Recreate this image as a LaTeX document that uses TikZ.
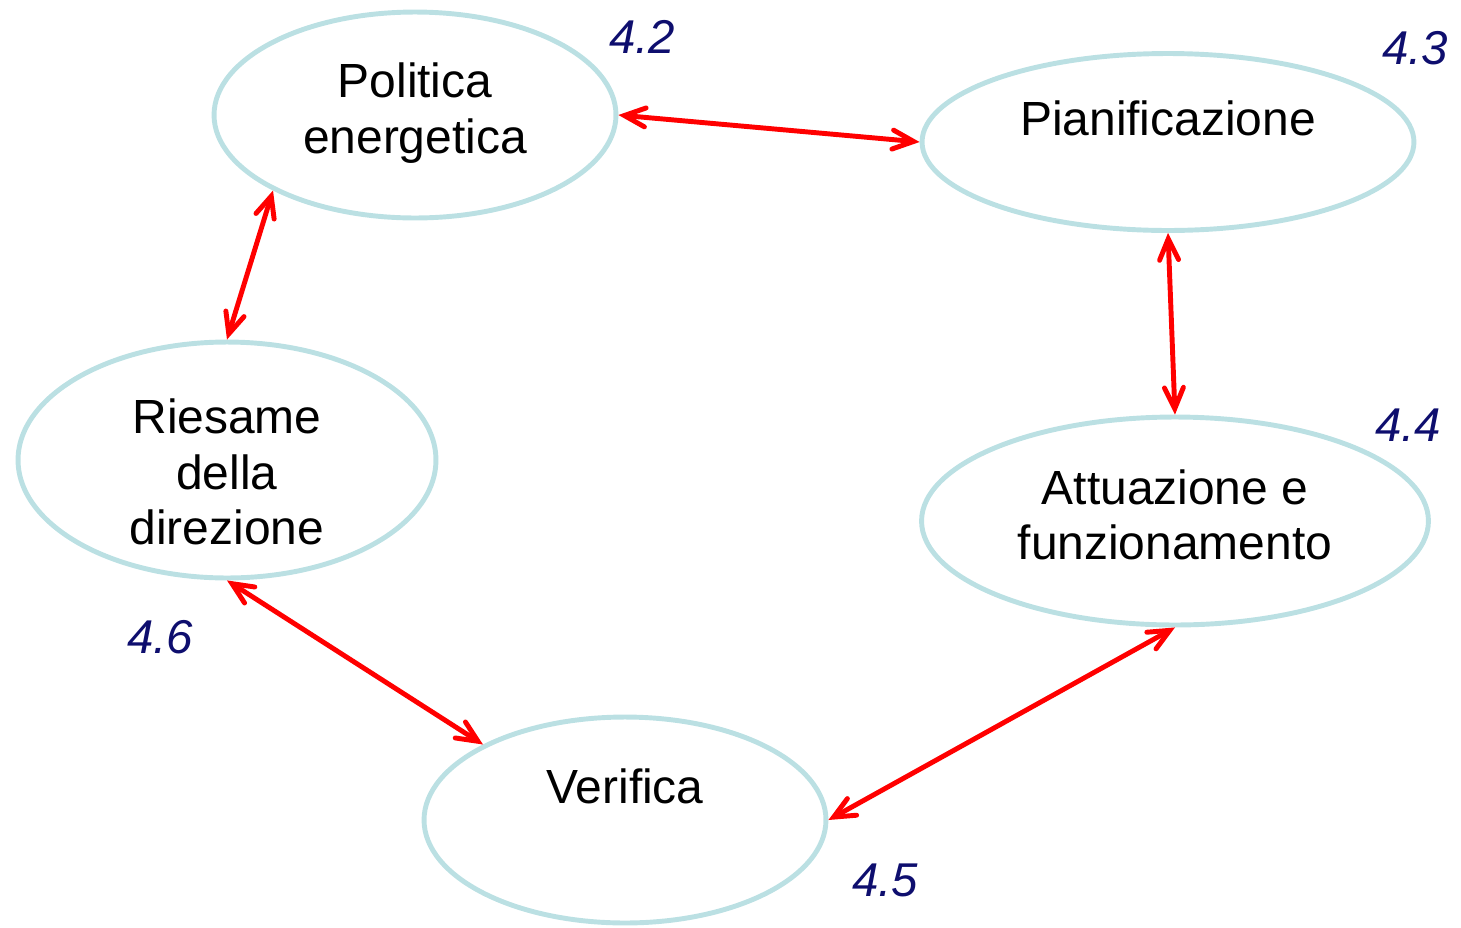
\documentclass[tikz,border=0pt]{standalone}
\usepackage{fontspec}
\setmainfont{Liberation Sans}
\usetikzlibrary{shapes.geometric,arrows.meta}
\definecolor{ringblue}{RGB}{187,224,227}
\definecolor{numblue}{RGB}{14,14,110}
\definecolor{linkred}{RGB}{255,0,0}

\begin{document}
\begin{tikzpicture}[x=0.02cm, y=-0.02cm,
    phase/.style={draw=ringblue, line width=2.8pt, ellipse, inner sep=0pt},
    txt/.style={align=center, font=\fontsize{27.3}{31.5}\selectfont},
    num/.style={text=numblue, font=\fontsize{27}{30}\selectfont\itshape},
    link/.style={linkred, line width=2.8pt, line cap=round,
        {Straight Barb[length=4.2mm,width=3.8mm,line cap=round]}-{Straight Barb[length=4.2mm,width=3.8mm,line cap=round]}}]
    \useasboundingbox (0,0) rectangle (1461,927);
    \node[phase, minimum width=8.04cm, minimum height=4.12cm] (1) at (415,115) {};
    \node[phase, minimum width=9.84cm, minimum height=3.54cm] (2) at (1168,142) {};
    \node[phase, minimum width=10.14cm, minimum height=4.16cm] (3) at (1175,521) {};
    \node[phase, minimum width=8.04cm, minimum height=4.12cm] (4) at (625,820) {};
    \node[phase, minimum width=8.36cm, minimum height=4.72cm] (5) at (227,460) {};
    \node[txt] (1t) at (415,113) {Politica\\energetica};
    \node[txt] (2t) at (1168,118) {Pianificazione};
    \node[txt] (3t) at (1175,515) {Attuazione e\\funzionamento};
    \node[txt] (4t) at (625,786) {Verifica};
    \node[txt] (5t) at (227,472) {Riesame\\della\\direzione};
    \node[num] (n2) at (642,37) {4.2};
    \node[num] (n3) at (1415,48) {4.3};
    \node[num] (n4) at (1408,425) {4.4};
    \node[num] (n5) at (885,880) {4.5};
    \node[num] (n6) at (160,637) {4.6};
    \path[link] (1.east) edge (2.west);
    \path[link] (2.south) edge (3.north);
    \path[link] (3.south) edge (4.east);
    \path[link] (5.south) edge (4.152);
    \path[link] (1.208) edge (5.north);
\end{tikzpicture}
\end{document}
